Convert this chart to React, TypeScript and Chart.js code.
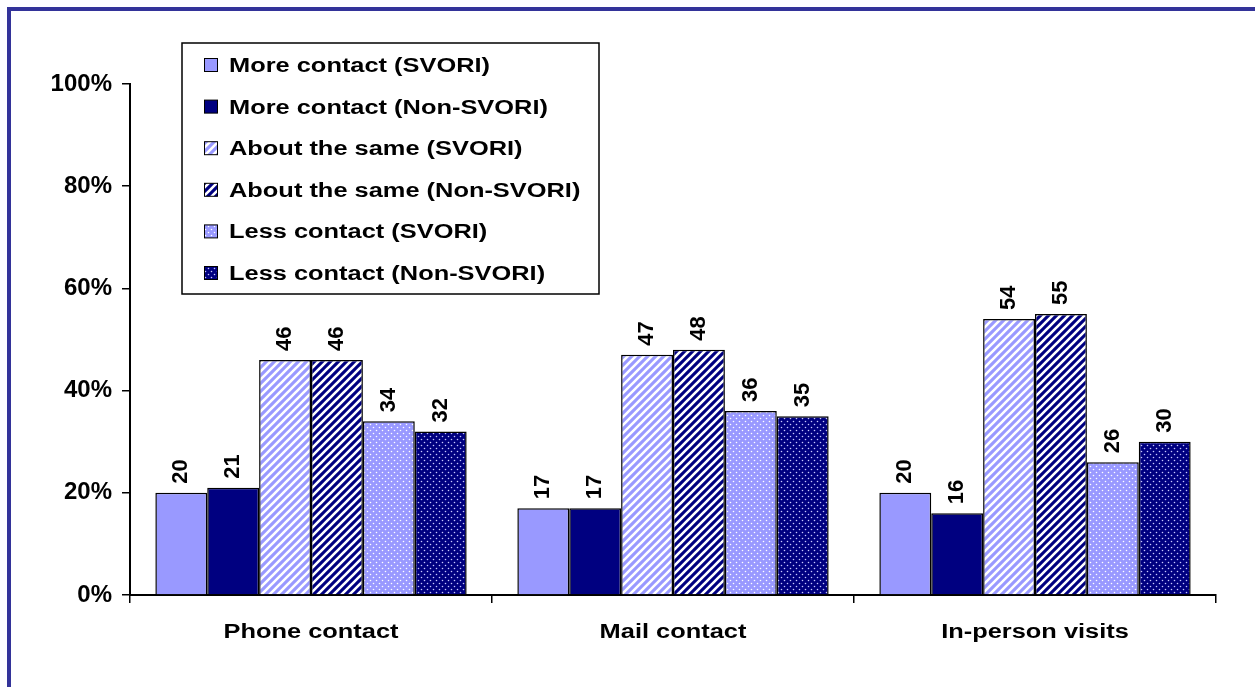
import React, { useEffect, useRef } from "react";
import { Chart, registerables } from "chart.js";

Chart.register(...registerables);

const categories = ["Phone contact", "Mail contact", "In-person visits"];
const seriesNames = [
  "More contact (SVORI)",
  "More contact (Non-SVORI)",
  "About the same (SVORI)",
  "About the same (Non-SVORI)",
  "Less contact (SVORI)",
  "Less contact (Non-SVORI)",
];
const moreSvori = [20, 17, 20];
const moreNon = [21, 17, 16];
const sameSvori = [46, 47, 54];
const sameNon = [46, 48, 55];
const lessSvori = [34, 36, 26];
const lessNon = [32, 35, 30];
const yTicks = [0, 20, 40, 60, 80, 100];

const LIGHT = "#9999FF";
const DARK = "#000080";
const FONT = '"Liberation Sans", Arial, sans-serif';
const STRETCH = 1.27;

function makeTile(w: number, h: number) {
  const c = document.createElement("canvas");
  c.width = w;
  c.height = h;
  return c;
}

function stripePattern(base: string): CanvasPattern {
  const c = makeTile(8, 8);
  const x = c.getContext("2d")!;
  x.fillStyle = base;
  x.fillRect(0, 0, 8, 8);
  x.strokeStyle = "#ffffff";
  x.lineWidth = 2.6;
  x.beginPath();
  for (const o of [-8, 0, 8]) {
    x.moveTo(o - 1, 9);
    x.lineTo(o + 9, -1);
  }
  x.stroke();
  return x.createPattern(c, "repeat")!;
}

function dotPattern(base: string, dot: string): CanvasPattern {
  const c = makeTile(6, 6);
  const x = c.getContext("2d")!;
  x.fillStyle = base;
  x.fillRect(0, 0, 6, 6);
  x.fillStyle = dot;
  x.beginPath();
  x.arc(1.5, 1.5, 0.8, 0, Math.PI * 2);
  x.arc(4.5, 4.5, 0.8, 0, Math.PI * 2);
  x.fill();
  return x.createPattern(c, "repeat")!;
}

function stretchedText(
  ctx: CanvasRenderingContext2D,
  text: string,
  x: number,
  y: number
) {
  ctx.save();
  ctx.translate(x, y);
  ctx.scale(STRETCH, 1);
  ctx.fillText(text, 0, 0);
  ctx.restore();
}

export default function App() {
  const ref = useRef<HTMLCanvasElement | null>(null);

  useEffect(() => {
    const canvas = ref.current!;
    const fills = [
      LIGHT,
      DARK,
      stripePattern(LIGHT),
      stripePattern(DARK),
      dotPattern(LIGHT, "#ffffff"),
      dotPattern(DARK, "#c8c8ff"),
    ];
    const values = [moreSvori, moreNon, sameSvori, sameNon, lessSvori, lessNon];

    const overlay = {
      id: "overlay",
      afterDraw(chart: any) {
        const ctx = chart.ctx as CanvasRenderingContext2D;
        // data labels
        ctx.save();
        ctx.fillStyle = "#000";
        ctx.font = `bold 22px ${FONT}`;
        ctx.textAlign = "left";
        ctx.textBaseline = "alphabetic";
        chart.data.datasets.forEach((ds: any, di: number) => {
          const meta = chart.getDatasetMeta(di);
          meta.data.forEach((el: any, i: number) => {
            ctx.save();
            ctx.translate(el.x + 6, el.y - 9);
            ctx.rotate(-Math.PI / 2);
            ctx.fillText(String(ds.data[i]), 0, 0);
            ctx.restore();
          });
        });
        ctx.restore();

        // category labels
        ctx.save();
        ctx.fillStyle = "#000";
        ctx.font = `bold 20px ${FONT}`;
        ctx.textAlign = "center";
        ctx.textBaseline = "alphabetic";
        const xs = chart.scales.x;
        categories.forEach((c, i) => {
          stretchedText(ctx, c, xs.getPixelForValue(i), 638);
        });
        ctx.restore();

        // legend
        const lx = 182, ly = 43, lw = 417, lh = 251;
        ctx.save();
        ctx.fillStyle = "#ffffff";
        ctx.fillRect(lx, ly, lw, lh);
        ctx.strokeStyle = "#000";
        ctx.lineWidth = 1.5;
        ctx.strokeRect(lx, ly, lw, lh);
        ctx.font = `bold 20px ${FONT}`;
        ctx.textAlign = "left";
        ctx.textBaseline = "alphabetic";
        seriesNames.forEach((name, i) => {
          const cy = 65 + 41.6 * i;
          ctx.fillStyle = fills[i] as any;
          ctx.fillRect(204, cy - 6.5, 13, 13);
          ctx.lineWidth = 1;
          ctx.strokeStyle = "#000";
          ctx.strokeRect(204.5, cy - 6.5, 13, 13);
          ctx.fillStyle = "#000";
          stretchedText(ctx, name, 229, cy + 7);
        });
        ctx.restore();
      },
    };

    const chart = new Chart(canvas, {
      type: "bar",
      data: {
        labels: categories,
        datasets: seriesNames.map((n, i) => ({
          label: n,
          data: values[i],
          backgroundColor: fills[i] as any,
          borderColor: "#000000",
          borderWidth: 1.5,
          categoryPercentage: 0.86,
          barPercentage: 1,
        })),
      },
      options: {
        responsive: false,
        animation: false,
        devicePixelRatio: 1,
        layout: { padding: { top: 84, right: 39, bottom: 0, left: 0 } },
        plugins: {
          legend: { display: false },
          tooltip: { enabled: false },
          title: { display: false },
        },
        scales: {
          x: {
            offset: true,
            grid: {
              display: true,
              offset: true,
              drawOnChartArea: false,
              drawTicks: true,
              tickLength: 8,
              color: "#000",
              lineWidth: 1.5,
            },
            border: { display: true, color: "#000", width: 2 },
            ticks: {
              color: "rgba(0,0,0,0)",
              font: { size: 12 },
              maxRotation: 0,
              autoSkip: false,
            },
            afterFit: (s: any) => {
              s.height = 92;
            },
          },
          y: {
            min: 0,
            max: 100,
            afterBuildTicks: (s: any) => {
              s.ticks = yTicks.map((v) => ({ value: v }));
            },
            grid: {
              display: true,
              drawOnChartArea: false,
              drawTicks: true,
              tickLength: 8,
              color: "#000",
              lineWidth: 1.5,
            },
            border: { display: true, color: "#000", width: 2 },
            ticks: {
              color: "#000",
              padding: 10,
              font: { family: FONT, size: 24, weight: "bold" },
              callback: (v: any) => `${v}%`,
            },
            afterFit: (s: any) => {
              s.width = 130;
            },
          },
        },
      },
      plugins: [overlay],
    });
    return () => chart.destroy();
  }, []);

  return (
    <>
      <div
        style={{
          position: "fixed",
          left: 7,
          top: 7,
          width: 1248,
          height: 680,
          boxSizing: "border-box",
          borderTop: "4px solid #333399",
          borderLeft: "4px solid #333399",
          background: "#fff",
        }}
      />
      <canvas
        ref={ref}
        width={1255}
        height={687}
        style={{ position: "fixed", left: 0, top: 0, width: 1255, height: 687 }}
      />
    </>
  );
}
